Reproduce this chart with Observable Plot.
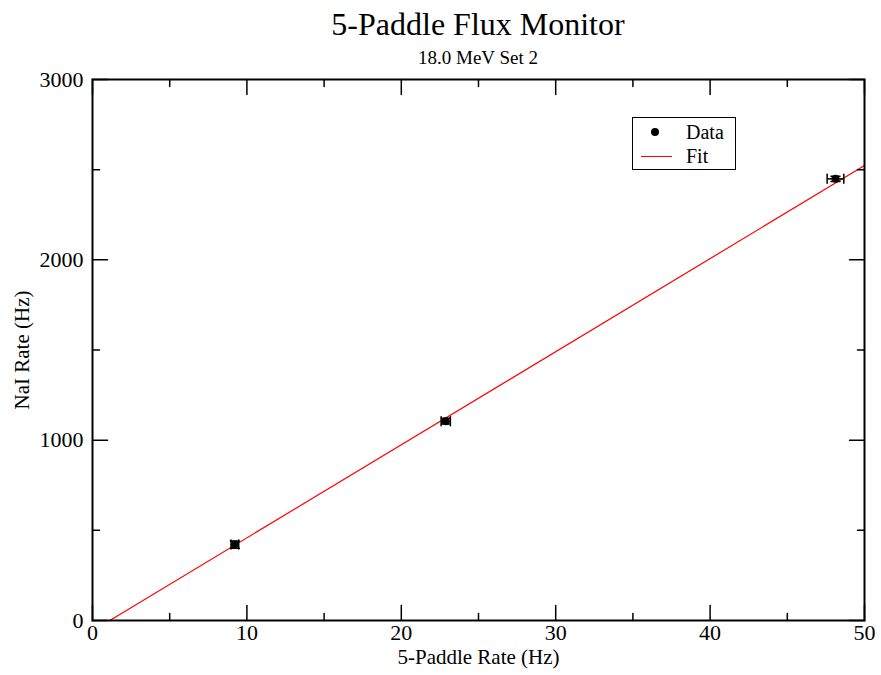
<!DOCTYPE html>
<html><head><meta charset="utf-8">
<script src="https://cdn.jsdelivr.net/npm/d3@7"></script>
<script src="https://cdn.jsdelivr.net/npm/@observablehq/plot@0.6"></script>
<style>
body{margin:0;background:#fff;font-family:"Liberation Serif","Times New Roman",serif;}
#wrap{position:relative;width:881px;height:675px;overflow:hidden;}
#wrap svg.plot{position:absolute;left:0;top:0;}
#wrap svg text{font-family:"Liberation Serif","Times New Roman",serif !important;}
.t{position:absolute;left:0;width:956px;text-align:center;color:#000;white-space:nowrap;z-index:2;font-family:"Liberation Serif","Times New Roman",serif;}
#legend{position:absolute;left:632px;top:117px;width:102px;height:51px;border:1.5px solid #000;background:#fff;z-index:2;}
.lg{position:absolute;left:53px;font-size:20px;line-height:20px;font-family:"Liberation Serif","Times New Roman",serif;}
</style></head><body>
<div id="wrap">
<div class="t" style="top:6px;font-size:32px;line-height:36px">5-Paddle Flux Monitor</div>
<div class="t" style="top:47px;font-size:19px;line-height:22px">18.0 MeV Set 2</div>
<div id="legend">
  <div style="position:absolute;left:18px;top:10px;width:8px;height:8px;border-radius:50%;background:#000"></div>
  <div class="lg" style="top:4px">Data</div>
  <div style="position:absolute;left:8px;top:38px;width:31px;height:1px;background:#ff0000"></div>
  <div class="lg" style="top:28px">Fit</div>
</div>
</div>
<script>
const xData = [9.22, 22.88, 48.12];
const yData = [421, 1105, 2449];
const xErr = [0.25, 0.30, 0.54];
const yErr = [20, 16, 14];
const fitX = [1.12, 50];
const fitY = [0, 2523];
const xTicksMajor = [0, 10, 20, 30, 40, 50];
const xTicksMinor = [5, 15, 25, 35, 45];
const yTicksMajor = [0, 1000, 2000, 3000];
const yTicksMinor = [500, 1500, 2500];

const pts = xData.map((x, i) => ({x, y: yData[i], ex: xErr[i], ey: yErr[i]}));
const fit = fitX.map((x, i) => ({x, y: fitY[i]}));
const lineShape = {draw(ctx, l) { ctx.moveTo(0, 0); ctx.lineTo(0, -l); }};

function ticks(vals, side, len) {
  const rot = {bottom: 0, top: 180, left: 90, right: -90}[side];
  const ch = (side === "bottom" || side === "top") ? {x: d => d} : {y: d => d};
  return Plot.vector(vals, {...ch, frameAnchor: side, rotate: rot, length: len, anchor: "start", shape: lineShape, stroke: "black", strokeWidth: 1.5});
}

const serif = '"Liberation Serif", "Times New Roman", serif';
const chart = Plot.plot({
  width: 881, height: 675,
  marginLeft: 92, marginRight: 17, marginTop: 79, marginBottom: 55,
  x: {domain: [0, 50]},
  y: {domain: [0, 3000]},
  style: {fontFamily: serif, fontSize: "22px", color: "#000", background: "transparent"},
  marks: [
    Plot.line(fit, {x: "x", y: "y", stroke: "#ff0000", strokeWidth: 1.2}),
    Plot.link(pts, {x1: d => d.x - d.ex, x2: d => d.x + d.ex, y1: "y", y2: "y", stroke: "black", strokeWidth: 1.5}),
    Plot.link(pts, {x1: "x", x2: "x", y1: d => d.y - d.ey, y2: d => d.y + d.ey, stroke: "black", strokeWidth: 1.5}),
    Plot.vector(pts, {x: d => d.x - d.ex, y: "y", length: 9, anchor: "middle", rotate: 0, shape: lineShape, stroke: "black", strokeWidth: 1.5}),
    Plot.vector(pts, {x: d => d.x + d.ex, y: "y", length: 9, anchor: "middle", rotate: 0, shape: lineShape, stroke: "black", strokeWidth: 1.5}),
    Plot.vector(pts, {x: "x", y: d => d.y - d.ey, length: 9, anchor: "middle", rotate: 90, shape: lineShape, stroke: "black", strokeWidth: 1.5}),
    Plot.vector(pts, {x: "x", y: d => d.y + d.ey, length: 9, anchor: "middle", rotate: 90, shape: lineShape, stroke: "black", strokeWidth: 1.5}),
    Plot.dot(pts, {x: "x", y: "y", r: 4, fill: "black"}),
    ticks(xTicksMajor, "bottom", 15), ticks(xTicksMinor, "bottom", 7),
    ticks(xTicksMajor, "top", 15), ticks(xTicksMinor, "top", 7),
    ticks(yTicksMajor, "left", 15), ticks(yTicksMinor, "left", 7),
    ticks(yTicksMajor, "right", 15), ticks(yTicksMinor, "right", 7),
    Plot.frame({stroke: "black", strokeWidth: 2}),
    Plot.axisX(xTicksMajor, {tickSize: 0, tickPadding: 4, fontSize: 22, label: null, tickFormat: d => String(d)}),
    Plot.axisY(yTicksMajor, {tickSize: 0, tickPadding: 9, fontSize: 22, label: null, tickFormat: d => String(d)}),
    Plot.text(["5-Paddle Rate (Hz)"], {frameAnchor: "bottom", dy: 37, fontSize: 21, textAnchor: "middle", lineAnchor: "middle"}),
    Plot.text(["NaI Rate (Hz)"], {frameAnchor: "left", dx: -70, rotate: -90, fontSize: 21, textAnchor: "middle", lineAnchor: "middle"})
  ]
});
chart.classList.add("plot");
document.getElementById("wrap").prepend(chart);
</script>
</body></html>
